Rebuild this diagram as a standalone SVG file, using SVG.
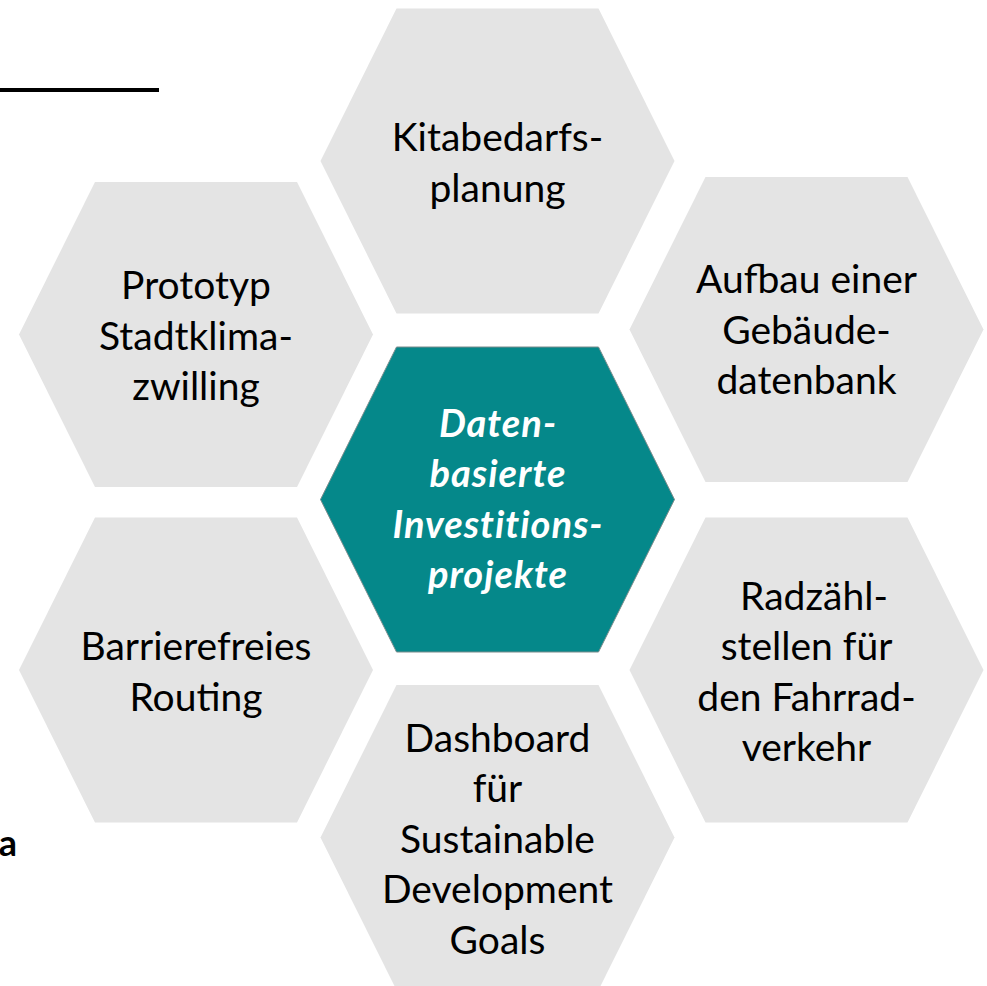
<svg xmlns="http://www.w3.org/2000/svg" xmlns:xlink="http://www.w3.org/1999/xlink" width="987" height="986" viewBox="0 0 987 986">
<defs>
<style>
.hex{fill:#E4E4E4;}
.hexc{fill:#05888A;stroke:#7A8C8C;stroke-width:1;}
.t{font-family:Lato,"Open Sans",sans-serif;font-size:39px;fill:#000;text-anchor:middle;}
.tc{font-family:Lato,"Open Sans",sans-serif;font-size:38px;font-weight:bold;font-style:italic;fill:#FFFFFF;text-anchor:middle;letter-spacing:1px;}
.tb{font-family:Lato,"Open Sans",sans-serif;font-size:36px;font-weight:bold;fill:#000;}
</style>
<polygon id="hx" points="-177,0 -101,-152.5 101,-152.5 177,0 101,152.5 -101,152.5"/>
</defs>
<rect x="0" y="0" width="987" height="986" fill="#FFFFFF"/>
<rect x="0" y="88" width="159" height="4" fill="#000"/>
<text class="tb" x="17" y="856" text-anchor="end">a</text>
<g id="connectors"></g>
<g id="n-kita">
<use xlink:href="#hx" class="hex" transform="translate(497.5,161)"/>
<text class="t" x="497.5" y="151">Kitabedarfs-</text>
<text class="t" x="497.5" y="201.5">planung</text>
</g>
<g id="n-aufbau">
<use xlink:href="#hx" class="hex" transform="translate(806.5,329.5)"/>
<text class="t" x="806.5" y="293">Aufbau einer</text>
<text class="t" x="806.5" y="343.5">Gebäude-</text>
<text class="t" x="806.5" y="394">datenbank</text>
</g>
<g id="n-prototyp">
<use xlink:href="#hx" class="hex" transform="translate(196,334.5)"/>
<text class="t" x="196" y="299">Prototyp</text>
<text class="t" x="196" y="349.5">Stadtklima-</text>
<text class="t" x="196" y="400">zwilling</text>
</g>
<g id="n-center">
<use xlink:href="#hx" class="hexc" transform="translate(497.5,499.5)"/>
<text class="tc" x="498" y="436.5">Daten-</text>
<text class="tc" x="498" y="487">basierte</text>
<text class="tc" x="498" y="537.5">Investitions-</text>
<text class="tc" x="498" y="588">projekte</text>
</g>
<g id="n-barriere">
<use xlink:href="#hx" class="hex" transform="translate(196,670)"/>
<text class="t" x="196" y="660">Barrierefreies</text>
<text class="t" x="196" y="710.5">Routing</text>
</g>
<g id="n-rad">
<use xlink:href="#hx" class="hex" transform="translate(806.5,670)"/>
<text class="t" x="814" y="609.5">Radzähl-</text>
<text class="t" x="806.5" y="660">stellen für</text>
<text class="t" x="806.5" y="710.5">den Fahrrad-</text>
<text class="t" x="806.5" y="761">verkehr</text>
</g>
<g id="n-dashboard">
<use xlink:href="#hx" class="hex" transform="translate(497.5,837.5)"/>
<text class="t" x="497.5" y="751.5">Dashboard</text>
<text class="t" x="497.5" y="802">für</text>
<text class="t" x="497.5" y="852.5">Sustainable</text>
<text class="t" x="497.5" y="903">Development</text>
<text class="t" x="497.5" y="953.5">Goals</text>
</g>
</svg>
